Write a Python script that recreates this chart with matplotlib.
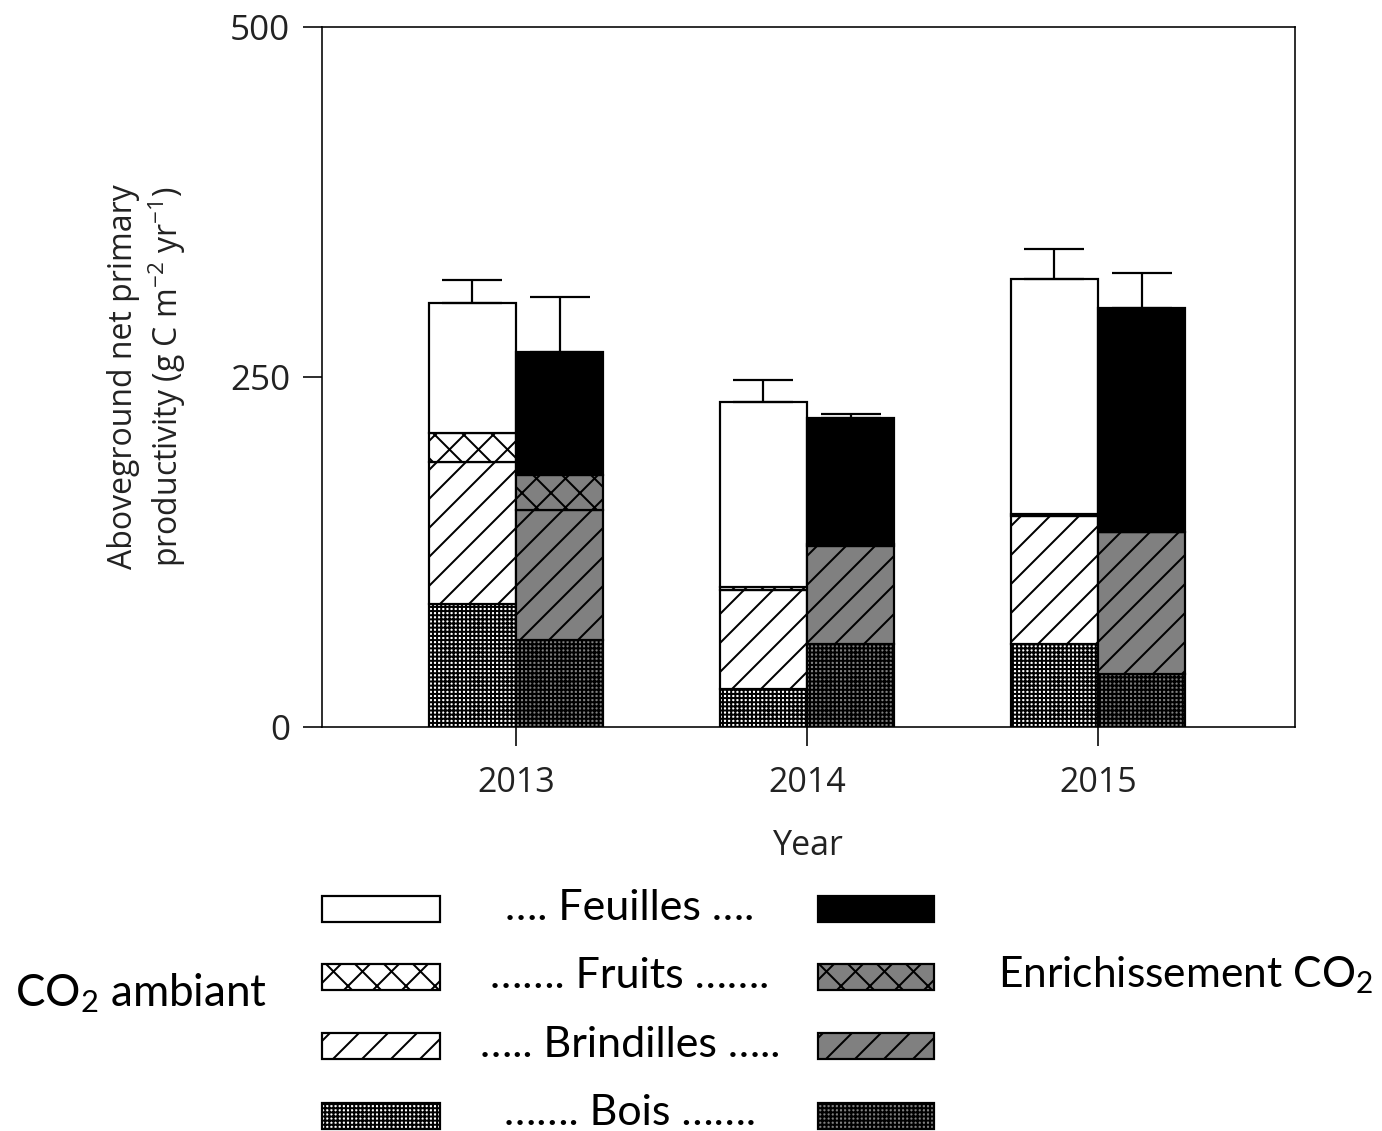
import numpy as np
import matplotlib
matplotlib.use("Agg")
import matplotlib.pyplot as plt
from matplotlib.patches import Rectangle

# aboveground NPP (g C m-2 yr-1), stacked by component
years = ['2013', '2014', '2015']
amb_bois = [88, 27, 59]
amb_brindilles = [101, 71, 92]
amb_fruits = [21, 2, 1.3]
amb_feuilles = [93, 132, 168]
amb_err = [16, 16, 21]

elev_bois = [62, 59, 38]
elev_brindilles = [93, 70, 101]
elev_fruits = [25, 2, 0.5]
elev_feuilles = [88, 90, 159.5]
elev_err = [39, 2.3, 25]

DPI = 174
W, H = 1382, 1131


def pt(p):
    # pixels -> points at this dpi
    return p * 72.0 / DPI


plt.rcParams['hatch.linewidth'] = pt(2.0)
plt.rcParams['font.family'] = ['Open Sans', 'DejaVu Sans']

GRAY = '#808080'
hatches = {'Bois': '+++++++', 'Brindilles': '//', 'Fruits': 'xx', 'Feuilles': ''}

fig = plt.figure(figsize=(W / DPI, H / DPI), dpi=DPI)
ax = fig.add_axes([322 / W, 1 - 727 / H, (1295 - 322) / W, 700 / H])

x = np.arange(len(years))
w = 0.3
edge = dict(edgecolor='black', linewidth=pt(2.2))

amb = [('Bois', amb_bois), ('Brindilles', amb_brindilles),
       ('Fruits', amb_fruits), ('Feuilles', amb_feuilles)]
elev = [('Bois', elev_bois), ('Brindilles', elev_brindilles),
        ('Fruits', elev_fruits), ('Feuilles', elev_feuilles)]

bottom = np.zeros(3)
for name, vals in amb:
    ax.bar(x - w / 2, vals, w, bottom=bottom, color='white',
           hatch=hatches[name], **edge)
    bottom += np.array(vals)
amb_total = bottom.copy()

bottom = np.zeros(3)
for name, vals in elev:
    fc = 'black' if name == 'Feuilles' else GRAY
    ax.bar(x + w / 2, vals, w, bottom=bottom, color=fc,
           hatch=hatches[name], **edge)
    bottom += np.array(vals)
elev_total = bottom.copy()

zeros = np.zeros(3)
ax.errorbar(x - w / 2, amb_total, yerr=[zeros, amb_err], fmt='none',
            ecolor='black', elinewidth=pt(2.2), capsize=pt(30),
            capthick=pt(2.2), zorder=1)
ax.errorbar(x + w / 2, elev_total, yerr=[zeros, elev_err], fmt='none',
            ecolor='black', elinewidth=pt(2.2), capsize=pt(30),
            capthick=pt(2.2), zorder=1)

ax.set_xlim(-0.667, 2.677)
ax.set_ylim(0, 500)
ax.set_yticks([0, 250, 500])
ax.set_xticks(x)
ax.set_xticklabels(years)
for s in ax.spines.values():
    s.set_linewidth(pt(1.6))
ax.tick_params(direction='out', length=pt(19), width=pt(1.6),
               labelsize=pt(35), labelcolor='#222222', pad=pt(13))
ax.tick_params(axis='x', pad=pt(20), labelsize=pt(34))
ax.set_xlabel('Year', fontsize=pt(34), color='#222222', labelpad=pt(29))
ax.set_ylabel('Aboveground net primary\nproductivity (g C m$\\mathregular{^{-2}}$ yr$\\mathregular{^{-1}}$)',
              fontsize=pt(32), color='#222222', labelpad=pt(42),
              linespacing=1.2)

# legend drawn as sample boxes in figure coordinates
rows = [('Feuilles', '…. Feuilles ….', 896, 908),
        ('Fruits', '……. Fruits …….', 964, 976),
        ('Brindilles', '….. Brindilles …..', 1033, 1045),
        ('Bois', '……. Bois …….', 1103, 1113)]
for name, label, ytop, ytext in rows:
    fig.add_artist(Rectangle((322 / W, 1 - (ytop + 26) / H), 118 / W, 26 / H,
                             transform=fig.transFigure, facecolor='white',
                             hatch=hatches[name], **edge))
    fc = 'black' if name == 'Feuilles' else GRAY
    fig.add_artist(Rectangle((818 / W, 1 - (ytop + 26) / H), 116 / W, 26 / H,
                             transform=fig.transFigure, facecolor=fc,
                             hatch=hatches[name], **edge))
    fig.text(630 / W, 1 - ytext / H, label, ha='center', va='center',
             fontsize=pt(43), family=['Lato', 'DejaVu Sans'])

fig.text(15 / W, 1 - 993 / H, 'CO$\\mathregular{_2}$ ambiant', ha='left',
         va='center', fontsize=pt(44), family=['Lato', 'DejaVu Sans'])
fig.text(998 / W, 1 - 975 / H, 'Enrichissement CO$\\mathregular{_2}$',
         ha='left', va='center', fontsize=pt(42.5),
         family=['Lato', 'DejaVu Sans'])

fig.savefig('out.png', dpi=DPI)
